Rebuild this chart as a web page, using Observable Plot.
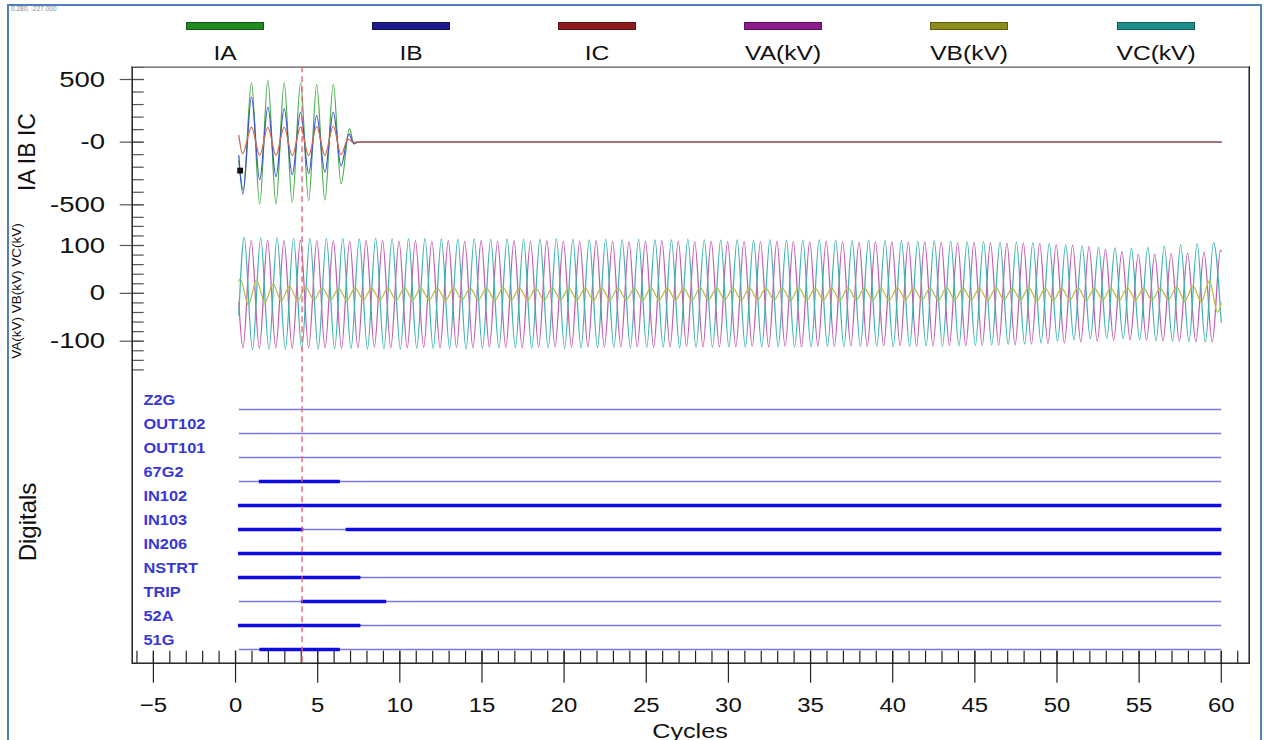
<!DOCTYPE html>
<html><head><meta charset="utf-8">
<script src="https://cdn.jsdelivr.net/npm/d3@7"></script>
<script src="https://cdn.jsdelivr.net/npm/@observablehq/plot@0.6"></script>
<style>
body{margin:0;background:#fff;}
#wrap{position:relative;width:1264px;height:740px;overflow:hidden;background:#fff;font-family:"Liberation Sans",Arial,Helvetica,sans-serif;color:#111}
#wrap svg{position:absolute;left:0;top:0;}
.border{position:absolute;left:7px;top:4px;width:1255px;height:770px;border:2.5px solid #4f81bd;box-sizing:border-box}
.readout{position:absolute;left:11px;top:5px;font-size:6.5px;color:#888;white-space:nowrap}
.ttl{position:absolute;white-space:nowrap;line-height:1;color:#111}
.topline{position:absolute;background:#a8a8a8;height:1.5px}
#legend{position:absolute;top:0;height:64px;display:flex}
#legend .item{flex:1;position:relative}
#legend .bar{position:absolute;left:50%;top:21.5px;width:78px;height:8px;margin-left:-39px;box-sizing:border-box}
#legend .lab{position:absolute;left:0;right:0;top:42px;text-align:center;font-size:21px;line-height:21px;transform:scaleX(1.17);color:#111}
</style></head>
<body><div id="wrap"></div>
<script>
// ---------------- data ----------------
const seriesNames = ["IA", "IB", "IC", "VA(kV)", "VB(kV)", "VC(kV)"];
const legendColors = ["#1f8a1f", "#1c1c8c", "#8c1c1c", "#8c1c8c", "#8c8c1c", "#1c8c8c"];
const lineColors   = ["#4cae4c", "#3a55c8", "#cf6a4a", "#c25cb0", "#b9bd45", "#3fb3b3"];

const recStart = 0.2, recEnd = 60;          // record span (cycles)
const cursorT = 4.05;                        // dashed cursor
const markerT = 0.28, markerV = -227;        // readout point

// currents: extremes (cycles, A)
const iaT = [0.2, 0.47, 0.97, 1.47, 1.97, 2.46, 2.96, 3.45, 3.96, 4.45, 4.94, 5.44, 5.95, 6.42, 6.94, 7.2, 7.45, 60];
const iaV = [-150, -380, 475, -494, 494, -494, 475, -481, 475, -468, 462, -462, 462, -333, 107, -15, 0, 0];
const ibT = [0.2, 0.45, 0.97, 1.47, 1.97, 2.46, 2.96, 3.45, 3.96, 4.45, 4.94, 5.44, 5.95, 6.42, 6.9, 7.2, 7.45, 60];
const ibV = [-107, -414, 360, -300, 280, -275, 267, -260, 240, -250, 214, -240, 240, -190, 65, -10, 0, 0];
const icT = [0.2, 0.43, 0.97, 1.47, 1.97, 2.46, 2.96, 3.45, 3.96, 4.45, 4.94, 5.44, 5.95, 6.42, 6.85, 7.15, 60];
const icV = [54, -93, 120, -105, 118, -105, 120, -108, 120, -107, 125, -105, 128, -100, 25, 0, 0];

// voltages: per-cycle peaks / troughs (kV)
const vaPkPhase = 0.95, vaTrPhase = 0.45, vaStart = -20, vaEnd = 88;
const vaPk = [110,111,110,111,110,110,109,110,110,109, 110,109,110,109,110,109,110,109,110,109,
              109,110,109,108,109,110,109,108,109,108, 109,108,109,108,108,109,108,107,108,108,
              107,108,107,106,107,106,105,105,104,102, 101,98,92,87,82,82,83,84,86,90];
const vaTr = [-114,-115,-114,-115,-114,-114,-115,-114,-113,-114, -114,-113,-114,-113,-114,-113,-113,-114,-113,-112,
              -113,-112,-113,-112,-112,-113,-112,-111,-112,-112, -112,-111,-112,-111,-112,-111,-111,-110,-111,-110,
              -110,-111,-110,-109,-110,-109,-108,-108,-106,-105, -104,-102,-100,-98,-97,-98,-99,-100,-101,-102];
const vcPkPhase = 0.53, vcTrPhase = 1.03, vcStart = -45, vcEnd = -60;
const vcPk = [117,116,116,115,115,114,115,114,115,114, 114,115,114,113,114,113,114,113,113,114,
              113,112,113,112,113,112,112,113,112,111, 112,111,112,111,111,112,111,110,111,110,
              110,109,110,109,108,108,107,107,106,104, 102,99,96,95,94,96,99,102,104,106];
const vcTr = [-118,-117,-117,-116,-117,-116,-116,-117,-116, -116,-115,-116,-115,-116,-115,-115,-114,-115,-114,
              -115,-114,-114,-113,-114,-113,-113,-114,-113,-113, -112,-113,-112,-112,-113,-112,-111,-112,-111,-111,
              -112,-111,-110,-111,-110,-109,-108,-107,-106,-104, -100,-97,-95,-94,-95,-97,-99,-100,-101,-102];
const vbPkPhase = 0.28, vbTrPhase = 0.78, vbStart = 25, vbEnd = -20;
const vbPk = [30,28,20,15,13,12,11,12,11,11, 12,11,11,12,11,11,12,11,11,12,
              11,11,12,11,11,12,11,11,12,11, 11,12,11,11,12,11,11,12,11,11,
              12,11,11,12,11,11,12,11,13,11, 11,12,11,11,12,11,11,13,15,26];
const vbTr = [-24,-20,-16,-15,-14,-14,-15,-14,-14,-15, -14,-14,-15,-14,-14,-15,-14,-14,-15,-14,
              -14,-15,-14,-14,-15,-14,-14,-15,-14,-14, -15,-14,-14,-15,-14,-14,-15,-14,-14,-15,
              -14,-14,-15,-14,-14,-15,-14,-14,-16,-15, -14,-15,-14,-15,-14,-15,-14,-16,-18,-40];

// digitals
const digNames = ["Z2G", "OUT102", "OUT101", "67G2", "IN102", "IN103", "IN206", "NSTRT", "TRIP", "52A", "51G"];
const onName  = ["67G2", "IN102", "IN103", "IN103", "IN206", "NSTRT", "TRIP", "52A", "51G"];
const onStart = [1.42, 0.15, 0.15, 6.7, 0.15, 0.15, 3.98, 0.15, 1.45];
const onEnd   = [6.35, 60, 4.12, 60, 60, 7.6, 9.17, 7.6, 6.35];

// axis ticks
const curTicks = [500, 0, -500], curTickLabels = ["500", "-0", "-500"];
const voltTicks = [100, 0, -100], voltTickLabels = ["100", "0", "-100"];
const curMinor = d3.range(600, -601, -100);
const voltMinor = d3.range(140, -161, -20);
const xTicks = d3.range(-5, 61, 5);
const xMinor = d3.range(-6, 62, 1);

// ---------------- layout ----------------
const W = 1264, H = 740;
const frameLeft = 131.7, frameRight = 1248.7, frameTop = 66.3, frameBottom = 662.7;
const xDomain = [-6.29, 61.7];
const FONT = "'Liberation Sans', Arial, Helvetica, sans-serif";

const pts = (ts, vs) => ts.map((t, i) => ({t, v: vs[i]}));
function wave(start, pk, pkPh, tr, trPh, end) {
  const p = [{t: recStart, v: start}];
  pk.forEach((v, k) => p.push({t: k + pkPh, v}));
  tr.forEach((v, k) => p.push({t: k + trPh, v}));
  p.push({t: recEnd, v: end});
  return p.filter(d => d.t >= recStart && d.t <= recEnd).sort((a, b) => a.t - b.t);
}
const ia = pts(iaT, iaV), ib = pts(ibT, ibV), ic = pts(icT, icV);
const va = wave(vaStart, vaPk, vaPkPhase, vaTr, vaTrPhase, vaEnd);
const vb = wave(vbStart, vbPk, vbPkPhase, vbTr, vbTrPhase, vbEnd);
const vc = wave(vcStart, vcPk, vcPkPhase, vcTr, vcTrPhase, vcEnd);
const onRows = onName.map((name, i) => ({name, t0: onStart[i], t1: onEnd[i]}));
const offRows = digNames.map(name => ({name, t0: recStart, t1: recEnd}));

function overlay(y, marks, xAxisNull = true) {
  return Plot.plot({
    width: W, height: H,
    marginTop: frameTop, marginLeft: frameLeft, marginRight: W - frameRight, marginBottom: H - frameBottom,
    style: {background: "transparent", fontFamily: FONT, color: "#111", overflow: "visible"},
    x: Object.assign({domain: xDomain, label: null}, xAxisNull ? {axis: null} : {}),
    y: Object.assign({label: null}, y),
    marks
  });
}
function stretch(svg, fs, k) {
  svg.querySelectorAll(`g[font-size="${fs}"] text`).forEach(t => {
    const tr = t.getAttribute("transform");
    if (tr) t.setAttribute("transform", tr + ` scale(${k},1)`);
    else {
      const x = +t.getAttribute("x") || 0, y = +t.getAttribute("y") || 0;
      t.setAttribute("transform", `translate(${x},${y}) scale(${k},1) translate(${-x},${-y})`);
    }
  });
}

const lineOpts = (c) => ({x: "t", y: "v", stroke: c, strokeWidth: 1.25, curve: "monotone-x"});
const tickStroke = "#555";

const voltPlot = overlay({domain: [100, -100], range: [245, 340.7]}, [
  Plot.axisY(voltMinor, {anchor: "left", tickSize: 12, dx: 12, fill: "none", stroke: tickStroke, strokeWidth: 1.2, label: null}),
  Plot.axisY(voltTicks, {anchor: "left", tickSize: 24, dx: 12, fill: "none", stroke: tickStroke, strokeWidth: 1.2, label: null}),
  Plot.axisY(voltTicks, {anchor: "left", tickSize: 0, tickPadding: 27.2, fontSize: 22, label: null,
    tickFormat: d => voltTickLabels[voltTicks.indexOf(d)]}),
  Plot.line(va, lineOpts(lineColors[3])),
  Plot.line(vc, lineOpts(lineColors[5])),
  Plot.line(vb, lineOpts(lineColors[4]))
]);

const curPlot = overlay({domain: [500, -500], range: [79, 204.3]}, [
  Plot.axisY(curMinor, {anchor: "left", tickSize: 12, dx: 12, fill: "none", stroke: tickStroke, strokeWidth: 1.2, label: null}),
  Plot.axisY(curTicks, {anchor: "left", tickSize: 24, dx: 12, fill: "none", stroke: tickStroke, strokeWidth: 1.2, label: null}),
  Plot.axisY(curTicks, {anchor: "left", tickSize: 0, tickPadding: 27.2, fontSize: 22, label: null,
    tickFormat: d => curTickLabels[curTicks.indexOf(d)]}),
  Plot.line(ia, lineOpts(lineColors[0])),
  Plot.line(ib, lineOpts(lineColors[1])),
  Plot.line(ic, lineOpts(lineColors[2])),
  Plot.dot([{t: markerT, v: markerV}], {x: "t", y: "v", symbol: "square", r: 3.3, fill: "#111"})
]);

const digPlot = overlay({type: "point", domain: digNames, range: [406.7, 651], padding: 0, axis: null}, [
  Plot.frame({stroke: "#222", strokeWidth: 1.5}),
  Plot.link(offRows, {x1: "t0", x2: "t1", y1: "name", y2: "name", stroke: "#7a7aee", strokeWidth: 1.3}),
  Plot.link(onRows, {x1: "t0", x2: "t1", y1: "name", y2: "name", stroke: "#0c0ce0", strokeWidth: 3.6}),
  Plot.text(digNames, {y: d => d, text: d => d, frameAnchor: "left", dx: 11.3, dy: -8.8, textAnchor: "start",
    fill: "#3838d6", fontSize: 14, fontWeight: "bold"}),
  Plot.axisX(xMinor, {anchor: "bottom", tickSize: 12, dy: -12, fill: "none", stroke: "#222", strokeWidth: 1.2, label: null}),
  Plot.axisX(xTicks, {anchor: "bottom", tickSize: 32, dy: -12, fill: "none", stroke: "#222", strokeWidth: 1.2, label: null}),
  Plot.axisX(xTicks, {anchor: "bottom", tickSize: 0, tickPadding: 34.3, fontSize: 21, label: null}),
  Plot.ruleX([cursorT], {stroke: "#e2606c", strokeWidth: 1.3, strokeDasharray: "6,4"})
], false);

stretch(voltPlot, 22, 1.25);
stretch(curPlot, 22, 1.25);
stretch(digPlot, 21, 1.14);
stretch(digPlot, 14, 1.17);

// ---------------- page ----------------
const wrap = document.getElementById("wrap");
wrap.insertAdjacentHTML("beforeend", `<div class="border"></div>`);
const ro = document.createElement("div");
ro.className = "readout";
ro.textContent = `${markerT.toFixed(3)}, ${markerV.toFixed(3)}`;
wrap.appendChild(ro);

const legend = document.createElement("div");
legend.id = "legend";
legend.style.left = frameLeft + "px";
legend.style.width = (frameRight - frameLeft) + "px";
seriesNames.forEach((name, i) => {
  const it = document.createElement("div");
  it.className = "item";
  const bar = document.createElement("div");
  bar.className = "bar";
  bar.style.background = legendColors[i];
  bar.style.border = "1px solid " + d3.color(legendColors[i]).darker(1.2);
  const lab = document.createElement("div");
  lab.className = "lab";
  lab.textContent = name;
  it.appendChild(bar); it.appendChild(lab);
  legend.appendChild(it);
});
wrap.appendChild(legend);

wrap.appendChild(voltPlot);
wrap.appendChild(curPlot);
wrap.appendChild(digPlot);

const tl = document.createElement("div");
tl.className = "topline";
tl.style.left = frameLeft + "px"; tl.style.width = (frameRight - frameLeft) + "px"; tl.style.top = (frameTop - 0.75) + "px";
wrap.appendChild(tl);

function title(text, cx, cy, size, rotate, sx) {
  const d = document.createElement("div");
  d.className = "ttl";
  d.textContent = text;
  d.style.left = cx + "px"; d.style.top = cy + "px"; d.style.fontSize = size + "px";
  d.style.transform = `translate(-50%,-50%) scaleX(${sx})` + (rotate ? " rotate(-90deg)" : "");
  wrap.appendChild(d);
}
title("IA IB IC", 27, 152, 23, true, 1);
title("VA(kV) VB(kV) VC(kV)", 17, 291, 13.5, true, 1);
title("Digitals", 28, 522, 24, true, 1);
title("Cycles", 690, 730, 21, false, 1.2);
</script>
</body></html>
